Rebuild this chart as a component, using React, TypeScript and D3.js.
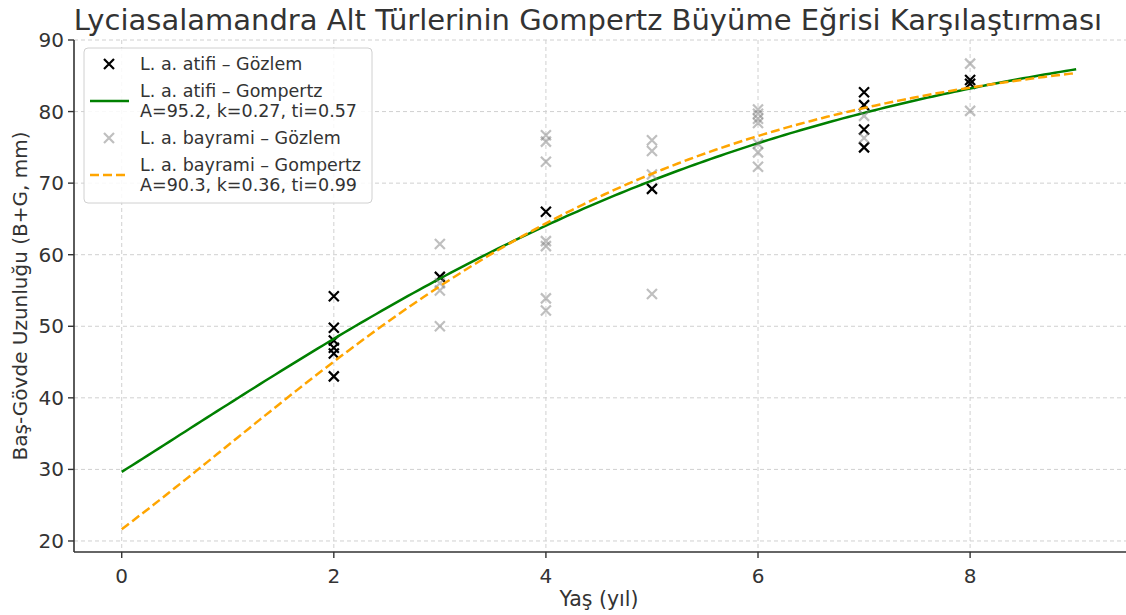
import React from "react";
import * as d3 from "d3";

const atifiAge = [2, 2, 2, 2, 2, 2, 3, 4, 5, 7, 7, 7, 7, 8, 8];
const atifiLen = [54.2, 49.8, 48.0, 47.0, 46.2, 43.0, 56.9, 66.0, 69.2, 82.7, 80.9, 77.5, 75.0, 84.4, 83.9];

const bayramiAge = [3, 3, 3, 3, 4, 4, 4, 4, 4, 4, 4, 5, 5, 5, 5, 6, 6, 6, 6, 6, 6, 6, 7, 7, 8, 8];
const bayramiLen = [
  61.5, 56.0, 55.0, 50.0, 76.7, 75.8, 73.0, 61.9, 61.2, 53.9, 52.2, 76.0, 74.5, 71.2, 54.5,
  80.3, 79.7, 79.0, 78.4, 75.5, 74.3, 72.3, 79.4, 76.3, 86.7, 80.1,
];

// Gompertz fits (A, k, ti) as stated in the legend
const atifiFit = [95.2, 0.27, 0.57];
const bayramiFit = [90.3, 0.36, 0.99];
const fitAgeRange = [0, 9];

const xTicks = [0, 2, 4, 6, 8];
const yTicks = [20, 30, 40, 50, 60, 70, 80, 90];

const W = 1126;
const H = 615;
const left = 74;
const right = 1126;
const top = 40;
const bottom = 552;
const FONT = "DejaVu Sans, sans-serif";
const TXT = "#333";

const x = d3.scaleLinear().domain([-0.45, 9.47]).range([left, right]);
const y = d3.scaleLinear().domain([18.46, 90]).range([bottom, top]);

const gompertz = (p: number[]) => (t: number) => p[0] * Math.exp(-Math.exp(-p[1] * (t - p[2])));

const curvePts = (p: number[]) =>
  d3.range(fitAgeRange[0], fitAgeRange[1] + 0.001, 0.05).map((t) => [t, gompertz(p)(t)] as [number, number]);

const line = d3
  .line<[number, number]>()
  .x((d) => x(d[0]))
  .y((d) => y(d[1]));

const Cross = ({ cx, cy, color, opacity }: { cx: number; cy: number; color: string; opacity?: number }) => {
  const s = 5;
  return (
    <path
      d={`M${cx - s},${cy - s}L${cx + s},${cy + s}M${cx - s},${cy + s}L${cx + s},${cy - s}`}
      stroke={color}
      strokeWidth={2.2}
      strokeOpacity={opacity ?? 1}
      fill="none"
    />
  );
};

const App = () => {
  const lx = 84;
  const ly = 48;
  const lf = 17.5;
  return (
    <svg
      width={W}
      height={H}
      style={{ position: "absolute", left: 0, top: 0, background: "#fff" }}
      fontFamily={FONT}
    >
      {/* grid */}
      {xTicks.map((t) => (
        <line key={"gx" + t} x1={x(t)} x2={x(t)} y1={top} y2={bottom} stroke="#d0d0d0" strokeDasharray="4,3" strokeWidth={1} />
      ))}
      {yTicks.map((t) => (
        <line key={"gy" + t} x1={left} x2={right} y1={y(t)} y2={y(t)} stroke="#d0d0d0" strokeDasharray="4,3" strokeWidth={1} />
      ))}

      {/* atifi observations */}
      {atifiAge.map((a, i) => (
        <Cross key={"a" + i} cx={x(a)} cy={y(atifiLen[i])} color="#000" />
      ))}
      {/* atifi curve */}
      <path d={line(curvePts(atifiFit)) || ""} fill="none" stroke="#008000" strokeWidth={2.5} />

      {/* bayrami observations */}
      {bayramiAge.map((a, i) => (
        <Cross key={"b" + i} cx={x(a)} cy={y(bayramiLen[i])} color="#808080" opacity={0.5} />
      ))}
      {/* bayrami curve */}
      <path
        d={line(curvePts(bayramiFit)) || ""}
        fill="none"
        stroke="#ffa500"
        strokeWidth={2.5}
        strokeDasharray="9,4"
      />

      {/* axes */}
      <line x1={left} x2={left} y1={top} y2={bottom} stroke={TXT} strokeWidth={1.6} />
      <line x1={left} x2={right} y1={bottom} y2={bottom} stroke={TXT} strokeWidth={1.6} />
      {yTicks.map((t) => (
        <g key={"ty" + t}>
          <line x1={left - 6} x2={left} y1={y(t)} y2={y(t)} stroke={TXT} strokeWidth={1.4} />
          <text x={left - 10} y={y(t)} dy="0.35em" textAnchor="end" fontSize={20} fill={TXT}>
            {t}
          </text>
        </g>
      ))}
      {xTicks.map((t) => (
        <g key={"tx" + t}>
          <line x1={x(t)} x2={x(t)} y1={bottom} y2={bottom + 6} stroke={TXT} strokeWidth={1.4} />
          <text x={x(t)} y={bottom + 31} textAnchor="middle" fontSize={20} fill={TXT}>
            {t}
          </text>
        </g>
      ))}

      <text x={599} y={606} textAnchor="middle" fontSize={20.5} fill={TXT}>
        Yaş (yıl)
      </text>
      <text
        transform={`translate(27,${(top + bottom) / 2}) rotate(-90)`}
        textAnchor="middle"
        fontSize={20}
        fill={TXT}
      >
        Baş-Gövde Uzunluğu (B+G, mm)
      </text>
      <text x={588} y={30} textAnchor="middle" fontSize={29} fill={TXT}>
        Lyciasalamandra Alt Türlerinin Gompertz Büyüme Eğrisi Karşılaştırması
      </text>

      {/* legend */}
      <rect x={lx} y={ly} width={288} height={155} rx={4} fill="#fff" fillOpacity={0.85} stroke="#d0d0d0" strokeWidth={1} />
      <Cross cx={lx + 25} cy={ly + 16} color="#000" />
      <text x={lx + 56} y={ly + 16} dy="0.35em" fontSize={lf} fill={TXT}>
        L. a. atifi – Gözlem
      </text>
      <line x1={lx + 6} x2={lx + 45} y1={ly + 53} y2={ly + 53} stroke="#008000" strokeWidth={2.5} />
      <text x={lx + 56} y={ly + 43} dy="0.35em" fontSize={lf} fill={TXT}>
        L. a. atifi – Gompertz
      </text>
      <text x={lx + 56} y={ly + 63} dy="0.35em" fontSize={lf} fill={TXT}>
        A=95.2, k=0.27, ti=0.57
      </text>
      <Cross cx={lx + 25} cy={ly + 90} color="#808080" opacity={0.5} />
      <text x={lx + 56} y={ly + 90} dy="0.35em" fontSize={lf} fill={TXT}>
        L. a. bayrami – Gözlem
      </text>
      <line
        x1={lx + 6}
        x2={lx + 45}
        y1={ly + 127}
        y2={ly + 127}
        stroke="#ffa500"
        strokeWidth={2.5}
        strokeDasharray="9,4"
      />
      <text x={lx + 56} y={ly + 117} dy="0.35em" fontSize={lf} fill={TXT}>
        L. a. bayrami – Gompertz
      </text>
      <text x={lx + 56} y={ly + 137} dy="0.35em" fontSize={lf} fill={TXT}>
        A=90.3, k=0.36, ti=0.99
      </text>
    </svg>
  );
};

export default App;
